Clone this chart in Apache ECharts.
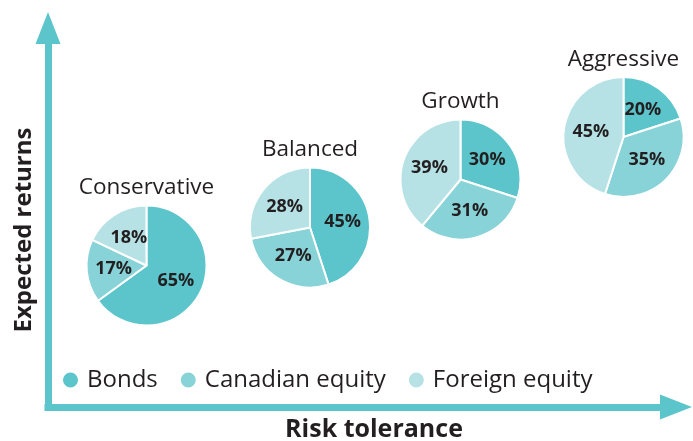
<!DOCTYPE html>
<html>
<head>
<meta charset="utf-8">
<script src="https://cdn.jsdelivr.net/npm/echarts@6/dist/echarts.min.js"></script>
<style>
html,body{margin:0;padding:0;background:#fff;}
#chart{width:693px;height:441px;}
</style>
</head>
<body>
<div id="chart"></div>
<script>
// ---- data ----
const categories = ['Conservative', 'Balanced', 'Growth', 'Aggressive'];
const assetClasses = ['Bonds', 'Canadian equity', 'Foreign equity'];
const bonds = [65, 45, 30, 20];
const canadianEquity = [17, 27, 31, 35];
const foreignEquity = [18, 28, 39, 45];
const xAxisTitle = 'Risk tolerance';
const yAxisTitle = 'Expected returns';

// ---- styles / layout ----
const colors = ['#5bc5cb', '#88d3d7', '#b6e2e6'];
const axisColor = '#5bc5cb';
const textColor = '#231f20';
const pieCenters = [[146.5, 265.5], [310, 227.5], [460.5, 179.5], [623.5, 137]];
const pieRadius = 60;
const titleFont = 22.5;

const chart = echarts.init(document.getElementById('chart'), null, {renderer: 'canvas'});

const values = [bonds, canadianEquity, foreignEquity];
const series = categories.map((cat, i) => ({
  type: 'pie',
  name: cat,
  center: pieCenters[i],
  radius: [0, pieRadius],
  startAngle: 90,
  clockwise: true,
  silent: true,
  animation: false,
  itemStyle: {borderColor: '#ffffff', borderWidth: 2},
  label: {
    show: true,
    position: 'inside',
    formatter: '{c}%',
    fontFamily: 'Open Sans',
    fontWeight: 'bold',
    fontSize: 18,
    color: textColor
  },
  labelLine: {show: false},
  data: assetClasses.map((a, j) => ({name: a, value: values[j][i], itemStyle: {color: colors[j]}}))
}));

const titles = categories.map((cat, i) => ({
  text: cat,
  left: pieCenters[i][0],
  top: pieCenters[i][1] - pieRadius - 29,
  textAlign: 'center',
  padding: 0,
  textStyle: {fontFamily: 'Open Sans', fontWeight: 'normal', fontSize: titleFont, color: textColor}
}));

const option = {
  backgroundColor: '#ffffff',
  animation: false,
  title: titles,
  grid: {left: 48, top: 28, right: 17, bottom: 34},
  xAxis: {
    type: 'value', min: 0, max: 1,
    axisLine: {show: true, symbol: ['none', 'triangle'], symbolSize: [25, 32],
      lineStyle: {color: axisColor, width: 7, cap: 'square'}},
    axisTick: {show: false}, axisLabel: {show: false}, splitLine: {show: false}
  },
  yAxis: {
    type: 'value', min: 0, max: 1,
    axisLine: {show: true, symbol: ['none', 'triangle'], symbolSize: [25, 32],
      lineStyle: {color: axisColor, width: 7, cap: 'square'}},
    axisTick: {show: false}, axisLabel: {show: false}, splitLine: {show: false}
  },
  legend: {
    data: assetClasses,
    left: 56,
    top: 363,
    icon: 'circle',
    itemWidth: 17,
    itemHeight: 17,
    itemGap: 21,
    selectedMode: false,
    textStyle: {fontFamily: 'Open Sans', fontSize: 24, color: textColor, padding: [0, 0, 0, 3], lineHeight: 24}
  },
  graphic: [
    {type: 'text', x: 374, y: 430, style: {text: xAxisTitle, font: 'bold 25px "Open Sans"', fill: textColor, textAlign: 'center', textVerticalAlign: 'middle'}},
    {type: 'text', x: 24, y: 230, rotation: Math.PI / 2, style: {text: yAxisTitle, font: 'bold 24px "Open Sans"', fill: textColor, textAlign: 'center', textVerticalAlign: 'middle'}}
  ],
  series: series
};
chart.setOption(option);
</script>
</body>
</html>
